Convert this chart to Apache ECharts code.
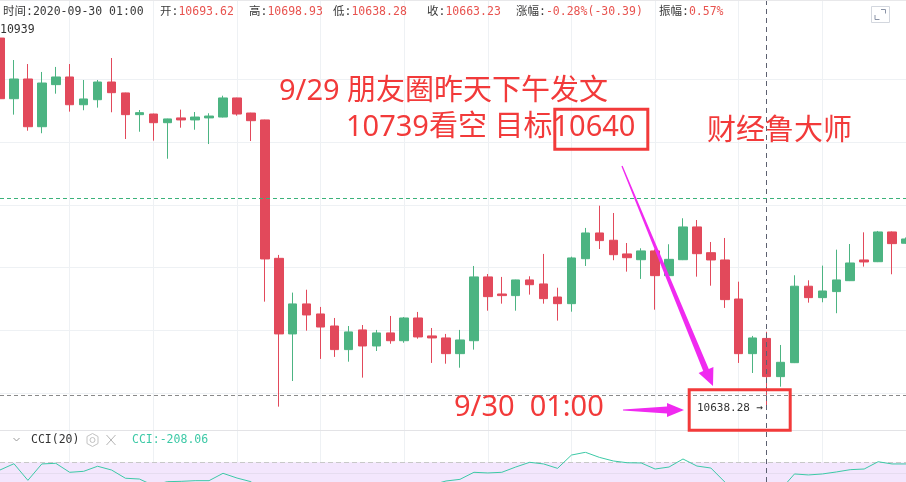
<!DOCTYPE html>
<html><head><meta charset="utf-8">
<script src="https://cdn.jsdelivr.net/npm/echarts@6/dist/echarts.min.js"></script>
<style>html,body{margin:0;padding:0;background:#fff}#c{width:906px;height:482px}</style>
</head><body><div id="c"></div>
<script>
// ---------- data ----------
const categories = [
'09-27 18:00','09-27 19:00','09-27 20:00','09-27 21:00','09-27 22:00','09-27 23:00',
'09-28 00:00','09-28 01:00','09-28 02:00','09-28 03:00','09-28 04:00','09-28 05:00',
'09-28 06:00','09-28 07:00','09-28 08:00','09-28 09:00','09-28 10:00','09-28 11:00',
'09-28 12:00','09-28 13:00','09-28 14:00','09-28 15:00','09-28 16:00','09-28 17:00',
'09-28 18:00','09-28 19:00','09-28 20:00','09-28 21:00','09-28 22:00','09-28 23:00',
'09-29 00:00','09-29 01:00','09-29 02:00','09-29 03:00','09-29 04:00','09-29 05:00',
'09-29 06:00','09-29 07:00','09-29 08:00','09-29 09:00','09-29 10:00','09-29 11:00',
'09-29 12:00','09-29 13:00','09-29 14:00','09-29 15:00','09-29 16:00','09-29 17:00',
'09-29 18:00','09-29 19:00','09-29 20:00','09-29 21:00','09-29 22:00','09-29 23:00',
'09-30 00:00','09-30 01:00','09-30 02:00','09-30 03:00','09-30 04:00','09-30 05:00',
'09-30 06:00','09-30 07:00','09-30 08:00','09-30 09:00','09-30 10:00','09-30 11:00'];
const opens = [10932.8,10884.5,10900.2,10862.2,10895.7,10901.8,10879.7,10883.7,10897.8,10889.1,
10871.8,10872.3,10865.4,10869.2,10867.6,10869.2,10869.9,10885.1,10873.1,10867.6,
10757.4,10697.2,10721.1,10713.1,10703.5,10684.7,10700.4,10687.6,10698.0,10691.8,
10709.9,10695.6,10694.0,10681.5,10691.8,10742.6,10729.0,10727.7,10740.2,10737.0,
10726.6,10721.3,10757.1,10777.6,10771.8,10760.9,10756.3,10763.3,10743.6,10756.3,
10782.4,10761.9,10756.1,10725.0,10681.5,10693.62,10663.2,10674.3,10735.2,10726.1,
10730.9,10739.6,10756.1,10754.7,10778.4,10769.4];
const closes = [10884.5,10900.2,10862.2,10897.0,10901.8,10879.7,10884.3,10897.8,10889.3,10871.8,
10873.4,10865.4,10868.4,10867.6,10869.9,10870.7,10885.1,10872.3,10867.0,10756.9,
10697.2,10721.1,10712.3,10702.7,10684.7,10698.8,10687.6,10698.0,10691.8,10709.9,
10694.8,10694.0,10681.5,10692.4,10742.6,10726.9,10727.7,10740.2,10736.4,10725.3,
10721.3,10757.7,10777.6,10771.5,10760.3,10757.9,10763.3,10743.6,10756.6,10782.4,
10761.1,10756.1,10724.5,10681.5,10694.0,10663.23,10674.6,10735.2,10726.1,10731.4,
10740.2,10753.7,10754.5,10778.4,10769.1,10772.8];
const lows = [10879.5,10871.8,10859.0,10857.0,10888.5,10874.2,10875.3,10877.4,10873.7,10852.4,
10858.2,10851.1,10836.7,10861.4,10859.8,10848.4,10869.6,10871.0,10850.8,10722.9,
10639.3,10659.7,10699.8,10677.3,10678.9,10675.1,10662.4,10683.6,10689.4,10690.2,
10693.4,10674.1,10673.5,10670.3,10684.7,10715.7,10721.3,10715.7,10728.5,10721.3,
10707.8,10714.9,10751.3,10764.8,10755.9,10746.8,10741.0,10716.5,10743.3,10756.0,
10742.8,10735.6,10717.9,10674.1,10666.1,10638.28,10655.2,10674.0,10722.1,10722.4,
10713.7,10739.3,10750.8,10754.4,10744.7,10769.0];
const highs = [10939,10915.3,10912.1,10905.8,10909.8,10912.1,10899.4,10899.4,10916.9,10889.3,
10875.5,10872.6,10868.6,10875.8,10873.9,10872.9,10886.9,10885.3,10873.3,10867.8,
10760.1,10730.1,10732.4,10718.7,10709.9,10703.5,10704.3,10700.4,10711.5,10710.7,
10714.7,10701.9,10697.2,10700.4,10751.3,10744.9,10742.6,10740.4,10743.1,10760.9,
10734.0,10758.7,10781.6,10799.3,10793.5,10769.6,10765.4,10764.5,10768.6,10789.3,
10787.9,10770.4,10773.6,10738.8,10695.6,10698.93,10688.4,10743.9,10739.9,10751.6,
10764.3,10768.8,10778.1,10779.2,10778.8,10774.0];
const cciValues = [30,87,-64,85,91,9,18,64,30,-45,
-52,-110,-76,-73,-67,-67,0,-43,-76,-200,
-250,-190,-170,-160,-160,-140,-140,-125,-120,-125,
-115,-105,-70,-55,9,3,9,57,100,85,
45,166,191,145,112,96,94,39,57,130,
66,48,-79,-170,-160,-208.06,-150,-6,-15,-6,
12,33,39,105,85,85];
const crossTime = '09-30 01:00';
const lastPriceLine = 10805;
const crossPrice = 10648;
const cciUpper = 100, cciZero = 0, cciLower = -100;
const headerLabels = ['时间:','开:','高:','低:','收:','涨幅:','振幅:'];
const headerValues = ['2020-09-30 01:00','10693.62','10698.93','10638.28','10663.23','-0.28%(-30.39)','0.57%'];
const highLabel = '10939';
const crossLabel = '10638.28 →';
const cciName = 'CCI(20)';
const cciReadout = 'CCI:-208.06';
const note1 = '9/29 朋友圈昨天下午发文';
const note2 = '10739看空 目标10640';
const note3 = '财经鲁大师';
const note4 = '9/30  01:00';

// ---------- styles ----------
const UP = '#4cb482', DOWN = '#e2495b';
const GRIDC = '#eef1f4';
const RED = '#f23a3a', MAG = '#f02af0';
const MONO = '"DejaVu Sans Mono","Noto Sans CJK SC",monospace';
const ANNO = '"Noto Sans","Noto Sans CJK SC",sans-serif';
const headerX = [3,160,249,333,427,516,659];

const chart = echarts.init(document.getElementById('c'), null, {renderer:'canvas'});
const hideAxis = {axisLine:{show:false},axisTick:{show:false},axisLabel:{show:false}};
const graphics = [];
headerLabels.forEach((l,i)=>{
  graphics.push({type:'text', x:headerX[i], y:12.5, z:100, style:{
    text:'{l|'+l+'}{v|'+headerValues[i]+'}', verticalAlign:'middle', align:'left',
    font:'11.5px '+MONO,
    rich:{l:{fill:'#3a3a3a', fontSize:11.5, fontFamily:MONO}, v:{fill: i===0?'#3a3a3a':'#e8534f', fontSize:11.5, fontFamily:MONO}}}});
});
graphics.push(
  {type:'text', x:0, y:30, z:100, style:{text:highLabel, fill:'#333', font:'11.5px '+MONO, verticalAlign:'middle'}},
  {type:'line', z:100, shape:{x1:0,y1:0.5,x2:906,y2:0.5}, style:{stroke:'#e8e8ea',lineWidth:1}},
  {type:'line', z:100, shape:{x1:0,y1:430.5,x2:906,y2:430.5}, style:{stroke:'#e3e3e6',lineWidth:1}},
  // fullscreen icon
  {type:'rect', z:100, shape:{x:871.5,y:6.5,width:18,height:16}, style:{fill:'#fff',stroke:'#d3d7de',lineWidth:1}},
  {type:'polyline', z:101, shape:{points:[[881,9.5],[885.5,9.5],[885.5,13.5]]}, style:{stroke:'#8a93a6',lineWidth:1,fill:null}},
  {type:'polyline', z:101, shape:{points:[[875,15],[875,19.5],[879.5,19.5]]}, style:{stroke:'#8a93a6',lineWidth:1,fill:null}},
  // CCI header row
  {type:'polyline', z:100, shape:{points:[[13.5,438],[16.5,441],[19.5,438]]}, style:{stroke:'#9a9a9a',lineWidth:1,fill:null}},
  {type:'text', x:31, y:440, z:100, style:{text:cciName, fill:'#333', font:'11.5px '+MONO, verticalAlign:'middle'}},
  {type:'polygon', z:100, shape:{points:[[92.5,433.5],[98,436.5],[98,443.5],[92.5,446.5],[87,443.5],[87,436.5]]}, style:{fill:null,stroke:'#c2c2c2',lineWidth:1}},
  {type:'circle', z:100, shape:{cx:92.5,cy:440,r:2.5}, style:{fill:null,stroke:'#c2c2c2',lineWidth:1}},
  {type:'line', z:100, shape:{x1:106.5,y1:435,x2:115.5,y2:445}, style:{stroke:'#b5b5b5',lineWidth:1}},
  {type:'line', z:100, shape:{x1:115.5,y1:435,x2:106.5,y2:445}, style:{stroke:'#b5b5b5',lineWidth:1}},
  {type:'text', x:132, y:440, z:100, style:{text:cciReadout, fill:'#3cc9a6', font:'11.5px '+MONO, verticalAlign:'middle'}},
  // annotations
  {type:'text', x:279, y:92, z:100, style:{text:note1, fill:RED, font:'29px '+ANNO, verticalAlign:'middle'}},
  {type:'text', x:346, y:128, z:100, style:{text:note2, fill:RED, font:'29px '+ANNO, verticalAlign:'middle'}},
  {type:'rect', z:100, shape:{x:554.8,y:109.2,width:93,height:40}, style:{fill:null,stroke:RED,lineWidth:3}},
  {type:'text', x:707, y:132, z:100, style:{text:note3, fill:RED, font:'29px '+ANNO, verticalAlign:'middle'}},
  {type:'text', x:454, y:408, z:100, style:{text:note4, fill:RED, font:'29px '+ANNO, verticalAlign:'middle'}},
  {type:'rect', z:100, shape:{x:689.2,y:389.8,width:101,height:40.4}, style:{fill:null,stroke:RED,lineWidth:3}},
  {type:'text', x:697, y:408, z:101, style:{text:crossLabel, fill:'#333', font:'11px '+MONO, verticalAlign:'middle'}},
  {type:'polygon', z:100, shape:{points:[[621.4,166.2],[703.2,371.1],[698.6,373.1],[713,386],[713.4,366.9],[708.8,368.9],[622.6,165.8]]}, style:{fill:MAG}},
  {type:'polygon', z:100, shape:{points:[[623,409.6],[667,406.5],[667,403],[684,410],[667,417],[667,413.5],[623,410.6]]}, style:{fill:MAG}}
);

const option = {
  animation:false,
  backgroundColor:'#fff',
  grid:[
    {left:-1.5,right:-2.5,top:0,bottom:0},
    {left:-1.5,right:-2.5,top:17.7,bottom:52},
    {left:-1.5,right:-2.5,top:452,bottom:0}
  ],
  xAxis:[0,1,2].map(g=>Object.assign({type:'category',gridIndex:g,data:categories,boundaryGap:false,
    splitLine:{show:g===0, interval:(i)=>i%6===5, lineStyle:{color:GRIDC,width:1}}},hideAxis)),
  yAxis:[
    Object.assign({type:'value',gridIndex:0,min:0,max:1,splitLine:{show:false}},hideAxis),
    Object.assign({type:'value',gridIndex:1,min:10620.7,max:10949,minInterval:50,maxInterval:50,splitNumber:7,scale:true,
      splitLine:{show:true,showMinLine:false,showMaxLine:false,lineStyle:{color:GRIDC,width:1}}},hideAxis),
    Object.assign({type:'value',gridIndex:2,min:-79.1,max:193.6,splitLine:{show:false}},hideAxis)
  ],
  graphic:graphics,
  series:[
    {type:'line',xAxisIndex:0,yAxisIndex:0,data:[],silent:true,
      markLine:{symbol:'none',silent:true,label:{show:false},
        lineStyle:{color:'#5c6070',type:[5,4],width:1},data:[{xAxis:crossTime}]}},
    {type:'candlestick',xAxisIndex:1,yAxisIndex:1,barWidth:9,
      data:opens.map((o,i)=>[o,closes[i],lows[i],highs[i]]),
      itemStyle:{color:UP,color0:DOWN,borderColor:UP,borderColor0:DOWN,borderWidth:1},
      markLine:{symbol:'none',silent:true,label:{show:false},data:[
        {yAxis:lastPriceLine,lineStyle:{color:'#3bb27a',type:[4,3],width:1}},
        {yAxis:crossPrice,lineStyle:{color:'#8a8a8a',type:[4,3],width:1}}]}},
    {type:'line',xAxisIndex:2,yAxisIndex:2,data:cciValues,symbol:'none',
      lineStyle:{color:'#3cc9a6',width:1},z:5,
      markArea:{silent:true,itemStyle:{color:'#f3e6fd'},data:[[{yAxis:cciLower},{yAxis:cciUpper}]]},
      markLine:{symbol:'none',silent:true,label:{show:false},data:[
        {yAxis:cciUpper,lineStyle:{color:'#c8c8c8',type:[5,3],width:1}},
        {yAxis:cciZero,lineStyle:{color:'#e6dcf0',type:'solid',width:1}}]}}
  ]
};
chart.setOption(option);
</script></body></html>
